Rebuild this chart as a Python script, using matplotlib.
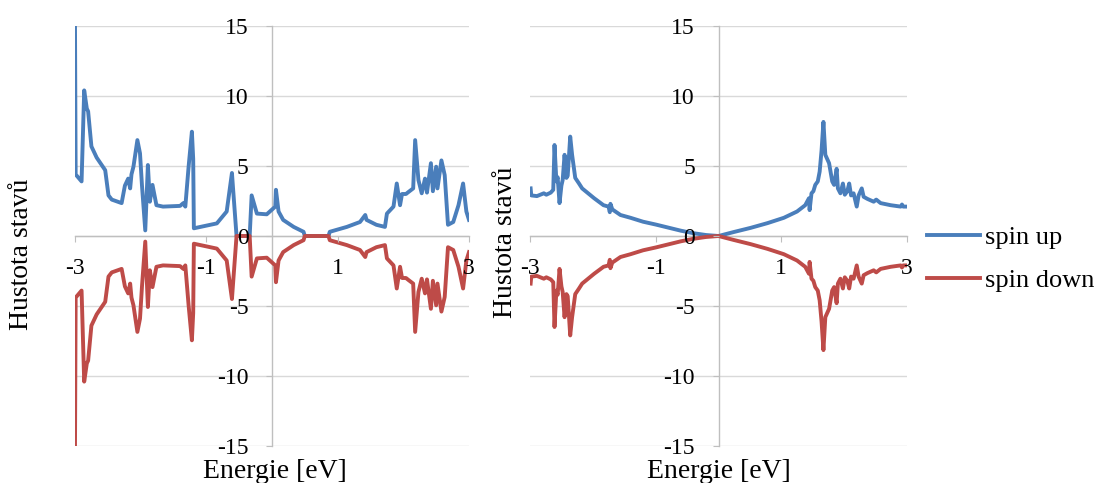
import matplotlib
matplotlib.use("Agg")
import matplotlib.pyplot as plt

# ---------------- data ----------------
energy_left = [-3.00, -2.99, -2.90, -2.86, -2.82, -2.80, -2.75, -2.67, -2.54, -2.49,
               -2.44, -2.29, -2.24, -2.19, -2.16, -2.14, -2.11, -2.05, -2.01, -1.98,
               -1.93, -1.89, -1.86, -1.82, -1.76, -1.66, -1.40, -1.35, -1.32, -1.27,
               -1.22, -1.20, -1.19, -0.84, -0.69, -0.61, -0.59, -0.54, -0.34, -0.31,
               -0.23, -0.08, 0.05, 0.06, 0.10, 0.17, 0.33, 0.48, 0.50, 0.86,
               0.88, 1.14, 1.34, 1.42, 1.44, 1.59, 1.72, 1.75, 1.85, 1.90,
               1.95, 1.98, 2.04, 2.08, 2.15, 2.18, 2.23, 2.28, 2.33, 2.36,
               2.42, 2.45, 2.50, 2.52, 2.58, 2.63, 2.68, 2.76, 2.84, 2.91,
               2.96, 3.00]
spin_up_left = [15.0, 4.4, 3.9, 10.4, 9.1, 8.9, 6.4, 5.6, 4.7, 2.9,
                2.6, 2.35, 3.6, 4.1, 3.4, 4.4, 4.95, 6.85, 5.9, 3.6,
                0.4, 5.07, 2.45, 3.65, 2.2, 2.1, 2.15, 2.35, 2.1, 4.95,
                7.45, 5.5, 0.55, 0.9, 1.75, 4.5, 3.2, 0.0, 0.0, 2.9,
                1.6, 1.55, 2.1, 3.3, 1.75, 1.15, 0.65, 0.3, 0.0, 0.0,
                0.3, 0.65, 1.0, 1.5, 1.15, 0.8, 0.65, 1.6, 2.1, 3.75,
                2.2, 3.0, 3.0, 3.15, 3.4, 6.85, 4.0, 3.05, 4.1, 3.1,
                5.2, 3.2, 4.95, 3.4, 5.4, 4.35, 0.8, 1.0, 2.2, 3.75,
                1.75, 1.15]
spin_down_left = [-15.0, -4.4, -3.9, -10.4, -9.1, -8.9, -6.4, -5.6, -4.7, -2.9,
                  -2.6, -2.35, -3.6, -4.1, -3.4, -4.4, -4.95, -6.85, -5.9, -3.6,
                  -0.4, -5.07, -2.45, -3.65, -2.2, -2.1, -2.15, -2.35, -2.1, -4.95,
                  -7.45, -5.5, -0.55, -0.9, -1.75, -4.5, -3.2, 0.0, 0.0, -2.9,
                  -1.6, -1.55, -2.1, -3.3, -1.75, -1.15, -0.65, -0.3, 0.0, 0.0,
                  -0.3, -0.65, -1.0, -1.5, -1.15, -0.8, -0.65, -1.6, -2.1, -3.75,
                  -2.2, -3.0, -3.0, -3.15, -3.4, -6.85, -4.0, -3.05, -4.1, -3.1,
                  -5.2, -3.2, -4.95, -3.4, -5.4, -4.35, -0.8, -1.0, -2.2, -3.75,
                  -1.75, -1.15]

energy_right = [-2.99, -2.98, -2.89, -2.78, -2.74, -2.67, -2.63, -2.61, -2.58, -2.56,
                -2.53, -2.50, -2.48, -2.45, -2.42, -2.40, -2.36, -2.33, -2.28, -2.22,
                -2.17, -1.98, -1.83, -1.75, -1.73, -1.72, -1.69, -1.56, -1.40, -1.20,
                -1.00, -0.80, -0.60, -0.40, -0.20, 0.00, 0.24, 0.51, 0.78, 1.04,
                1.25, 1.38, 1.44, 1.45, 1.48, 1.51, 1.54, 1.58, 1.61, 1.64,
                1.67, 1.70, 1.76, 1.81, 1.84, 1.88, 1.90, 1.94, 1.98, 2.01,
                2.05, 2.08, 2.11, 2.15, 2.20, 2.23, 2.28, 2.31, 2.37, 2.47,
                2.51, 2.58, 2.74, 2.90, 2.92, 2.94, 3.00]
spin_up_right = [3.4, 2.9, 2.85, 3.05, 2.95, 3.1, 3.3, 6.5, 3.9, 4.2,
                 2.35, 3.6, 4.0, 5.8, 4.15, 4.3, 7.1, 5.8, 4.15, 3.75,
                 3.4, 2.7, 2.2, 2.1, 1.7, 2.3, 1.9, 1.5, 1.3, 1.02,
                 0.82, 0.6, 0.38, 0.2, 0.07, 0.0, 0.28, 0.58, 0.92, 1.3,
                 1.75, 2.2, 2.7, 1.85, 3.05, 3.2, 3.65, 3.9, 4.6, 6.1,
                 8.15, 5.8, 5.2, 3.9, 3.65, 4.8, 3.4, 3.05, 3.75, 2.95,
                 3.2, 3.75, 2.9, 3.05, 2.1, 2.9, 3.4, 2.8, 2.65, 2.45,
                 2.6, 2.35, 2.2, 2.1, 2.25, 2.1, 2.1]
spin_down_right = [-3.4, -2.9, -2.85, -3.05, -2.95, -3.1, -3.3, -6.5, -3.9, -4.2,
                   -2.35, -3.6, -4.0, -5.8, -4.15, -4.3, -7.1, -5.8, -4.15, -3.75,
                   -3.4, -2.7, -2.2, -2.1, -1.7, -2.3, -1.9, -1.5, -1.3, -1.02,
                   -0.82, -0.6, -0.38, -0.2, -0.07, 0.0, -0.28, -0.58, -0.92, -1.3,
                   -1.75, -2.2, -2.7, -1.85, -3.05, -3.2, -3.65, -3.9, -4.6, -6.1,
                   -8.15, -5.8, -5.2, -3.9, -3.65, -4.8, -3.4, -3.05, -3.75, -2.95,
                   -3.2, -3.75, -2.9, -3.05, -2.1, -2.9, -3.4, -2.8, -2.65, -2.45,
                   -2.6, -2.35, -2.2, -2.1, -2.25, -2.1, -2.1]

x_ticks = [-3, -1, 1, 3]
y_ticks = [-15, -10, -5, 0, 5, 10, 15]
series_labels = ["spin up", "spin down"]
x_title = "Energie [eV]"
y_title = "Hustota stavů"

# ---------------- style ----------------
plt.rcParams['font.family'] = ['Liberation Serif', 'DejaVu Serif']
FS_TICK = 17
FS_TITLE = 20
FS_LEG = 19
BLUE = '#4A7EBB'
RED = '#BE4B48'
GRID = '#D9D9D9'
AXIS = '#BFBFBF'

W, H = 1097, 483
fig = plt.figure(figsize=(W / 100, H / 100), dpi=100)


def px_rect(x0, x1, ytop, ybot):
    return [x0 / W, (H - ybot) / H, (x1 - x0) / W, (ybot - ytop) / H]


ax1 = fig.add_axes(px_rect(75, 469, 26, 446))
ax2 = fig.add_axes(px_rect(530, 907, 26, 446))


def style(ax):
    ax.set_xlim(-3, 3)
    ax.set_ylim(-15, 15)
    ax.set_facecolor('none')
    for y in y_ticks:
        ax.axhline(y, color=GRID, lw=1.0, zorder=0.5)
    for s in ('top', 'right'):
        ax.spines[s].set_visible(False)
    ax.spines['left'].set_position(('data', 0))
    ax.spines['bottom'].set_position(('data', 0))
    for s in ('left', 'bottom'):
        ax.spines[s].set_color(AXIS)
        ax.spines[s].set_linewidth(1.0)
        ax.spines[s].set_zorder(1)
    ax.set_axisbelow(False)
    ax.set_xticks(x_ticks)
    ax.set_yticks(y_ticks)
    ax.set_xticklabels([str(v) for v in x_ticks])
    ax.set_yticklabels([str(v) for v in y_ticks])
    ax.tick_params(axis='x', direction='out', length=4, width=0.8, color=AXIS,
                   pad=12, labelsize=FS_TICK)
    ax.tick_params(axis='y', direction='out', length=4, width=0.8, color=AXIS,
                   pad=13, labelsize=FS_TICK)


style(ax1)
style(ax2)

lw = 2.8
l1, = ax1.plot(energy_left, spin_up_left, color=BLUE, lw=lw, zorder=2,
               solid_joinstyle='round', label=series_labels[0])
l2, = ax1.plot(energy_left, spin_down_left, color=RED, lw=lw, zorder=2.1,
               solid_joinstyle='round', label=series_labels[1])
r1, = ax2.plot(energy_right, spin_up_right, color=BLUE, lw=lw, zorder=2,
               solid_joinstyle='round', label=series_labels[0])
r2, = ax2.plot(energy_right, spin_down_right, color=RED, lw=lw, zorder=2.1,
               solid_joinstyle='round', label=series_labels[1])

# axis titles
fig.text(22 / W, 1 - 254 / H, y_title, rotation=90, ha='center', va='center', fontsize=FS_TITLE)
fig.text(506 / W, 1 - 242 / H, y_title, rotation=90, ha='center', va='center', fontsize=FS_TITLE)
fig.text(275 / W, 1 - 471 / H, x_title, ha='center', va='center', fontsize=FS_TITLE)
fig.text(719 / W, 1 - 471 / H, x_title, ha='center', va='center', fontsize=FS_TITLE)

# legend
fig.legend(handles=[r1, r2], labels=series_labels, loc='center left',
           bbox_to_anchor=(927 / W, 1 - 259 / H), frameon=False, fontsize=FS_LEG,
           borderpad=0, borderaxespad=0, handlelength=2.0, handletextpad=0.19,
           labelspacing=0.75)

fig.savefig('out.png', dpi=100)
